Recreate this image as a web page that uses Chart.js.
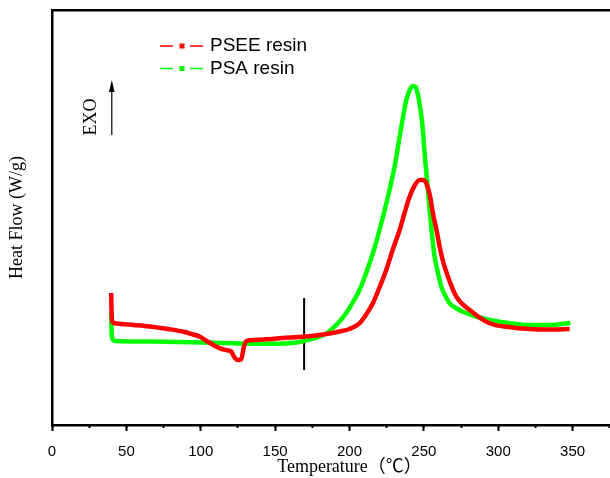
<!DOCTYPE html>
<html><head><meta charset="utf-8">
<script src="https://cdn.jsdelivr.net/npm/chart.js@4"></script>
<style>
html,body{margin:0;padding:0;background:#fff;overflow:hidden;width:610px;height:478px}
#wrap{width:610px;height:478px;overflow:hidden;position:relative;background:#fff}
canvas{position:absolute;left:0;top:0}
</style></head>
<body><div id="wrap"><canvas id="c" width="650" height="478"></canvas></div>
<script>
// ---- data ----
const seriesNames = ['PSEE resin', 'PSA resin'];
const pseeT  = [39.8,40.0,40.4,41.5,43.5,55,65.6,78,87.8,95,99.2,104,109.3,114,117.1,120.5,122.7,125,127.2,128.8,130.6,136,144,155,166.4,179.9,193.4,200,206.7,211,215.7,220,224.7,229,233.7,237,240.4,244,247.1,249.5,251.6,254,256.1,258.5,260.6,263,266.2,271.8,280.8,294.2,307,321,335,348];
const pseeHF = [1.32,1.15,1.04,1.02,1.015,1.0,0.985,0.96,0.935,0.905,0.885,0.84,0.793,0.76,0.75,0.733,0.677,0.65,0.657,0.767,0.84,0.85,0.857,0.87,0.88,0.90,0.935,0.96,1.017,1.10,1.217,1.37,1.55,1.75,1.95,2.12,2.283,2.40,2.45,2.45,2.417,2.30,2.117,1.95,1.783,1.63,1.483,1.283,1.15,1.017,0.98,0.96,0.955,0.96];
const psaT   = [39.8,40.0,40.4,41.5,43,60,76.8,100,121.4,144,155,166.4,173,179.9,185,188.7,193,197.7,202,206.7,210,213.5,217,220.2,223.5,226.9,230.5,233.7,236,238.2,240.5,242.5,244.5,246,247.1,249,250.5,252.2,253.9,255.5,257.2,259.5,261.7,264.5,267.3,271.5,276.3,285,294.2,307,321,335,348.5];
const psaHF  = [1.13,0.97,0.87,0.845,0.84,0.835,0.833,0.825,0.817,0.812,0.815,0.83,0.855,0.883,0.92,0.967,1.03,1.117,1.22,1.35,1.47,1.617,1.78,1.95,2.14,2.35,2.6,2.883,3.08,3.25,3.35,3.39,3.38,3.30,3.217,3.0,2.717,2.43,2.15,1.9,1.683,1.52,1.383,1.29,1.217,1.17,1.133,1.085,1.05,1.02,1.0,1.0,1.02];
const markerT  = [169.5, 169.5];
const markerHF = [0.55, 1.27];
const xTickValues = [0, 50, 100, 150, 200, 250, 300, 350, 400];
const xMinorStep = 25;
const arrowT = [40.2, 40.2];     // EXO arrow (tail, tip)
const arrowHF = [2.9, 3.45];
const exoLabel = {t: 26.4, hf: 3.08, text: 'EXO'};

const toXY = (xs, ys) => xs.map((x, i) => ({x, y: ys[i]}));

const annot = {
  id: 'annot',
  afterDraw(chart) {
    const ctx = chart.ctx, xs = chart.scales.x, ys = chart.scales.y;
    ctx.save();
    // legend
    chart.data.datasets.filter(d => d.inLegend).forEach((ds, i) => {
      const y = 46 + i * 22.5;
      ctx.strokeStyle = ds.borderColor; ctx.lineWidth = 1.3;
      ctx.beginPath();
      ctx.moveTo(160, y); ctx.lineTo(173, y);
      ctx.moveTo(190, y); ctx.lineTo(203, y);
      ctx.stroke();
      ctx.fillStyle = ds.borderColor;
      ctx.fillRect(179.5, y - 2.5, 5, 5);
      ctx.fillStyle = '#000';
      ctx.font = '19px "Liberation Sans", Arial, sans-serif';
      ctx.textBaseline = 'middle'; ctx.textAlign = 'left';
      ctx.fillText(ds.label, 210, y);
    });
    // EXO arrow
    const ax = xs.getPixelForValue(arrowT[0]);
    const y0 = ys.getPixelForValue(arrowHF[0]);
    const y1 = ys.getPixelForValue(arrowHF[1]);
    ctx.strokeStyle = '#000'; ctx.lineWidth = 1.2;
    ctx.beginPath(); ctx.moveTo(ax, y0); ctx.lineTo(ax, y1 + 10); ctx.stroke();
    ctx.fillStyle = '#000';
    ctx.beginPath(); ctx.moveTo(ax, y1); ctx.lineTo(ax - 2.8, y1 + 12); ctx.lineTo(ax + 2.8, y1 + 12); ctx.closePath(); ctx.fill();
    ctx.translate(xs.getPixelForValue(exoLabel.t), ys.getPixelForValue(exoLabel.hf));
    ctx.rotate(-Math.PI / 2);
    ctx.font = '18px "Liberation Serif", "Times New Roman", serif';
    ctx.textAlign = 'center'; ctx.textBaseline = 'middle';
    ctx.fillText(exoLabel.text, 0, 0);
    ctx.restore();
  }
};

new Chart(document.getElementById('c'), {
  type: 'line',
  data: {
    datasets: [
      {label: seriesNames[0], data: toXY(pseeT, pseeHF), borderColor: '#ff0000', borderWidth: 4.5, pointRadius: 0, cubicInterpolationMode: 'monotone', inLegend: true},
      {label: seriesNames[1], data: toXY(psaT, psaHF), borderColor: '#00ff00', borderWidth: 4.5, pointRadius: 0, cubicInterpolationMode: 'monotone', inLegend: true},
      {label: 'marker', data: toXY(markerT, markerHF), borderColor: '#000000', borderWidth: 2, pointRadius: 0, tension: 0}
    ]
  },
  options: {
    responsive: false, animation: false, events: [],
    layout: {padding: {top: 10, right: 3, left: 0, bottom: 0}},
    plugins: {legend: {display: false}, tooltip: {enabled: false}},
    scales: {
      x: {
        type: 'linear', position: 'bottom', min: 0, max: 400,
        afterBuildTicks: s => { s.ticks = xTickValues.map(v => ({value: v})); },
        afterFit: s => { s.height = 53; s.paddingLeft = 0; s.paddingRight = 0; },
        border: {display: true, color: '#000', width: 2.5},
        grid: {display: true, drawOnChartArea: false, drawTicks: true, tickLength: 6, tickWidth: 2, tickColor: '#000'},
        ticks: {color: '#000', padding: 12, maxRotation: 0, font: {family: '"Liberation Sans", Arial, sans-serif', size: 15}},
        title: {display: true, text: 'Temperature（℃）', color: '#000', padding: {top: 0, bottom: 0}, font: {family: '"Liberation Serif", "Times New Roman", "Noto Sans CJK SC", serif', size: 18}}
      },
      xMinor: {
        type: 'linear', axis: 'x', position: {y: 0}, min: 0, max: 400,
        afterFit: s => { s.paddingLeft = 0; s.paddingRight = 0; },
        ticks: {display: false, stepSize: xMinorStep},
        border: {display: false},
        grid: {display: true, drawOnChartArea: false, drawTicks: true, tickLength: 3, tickWidth: 2, tickColor: '#000'}
      },
      xTop: {
        type: 'linear', axis: 'x', position: {y: 4.15}, min: 0, max: 400,
        afterFit: s => { s.paddingLeft = 0; s.paddingRight = 0; },
        ticks: {display: false},
        border: {display: true, color: '#000', width: 2.5},
        grid: {display: false}
      },
      y: {
        type: 'linear', position: 'left', min: 0, max: 4.15,
        afterFit: s => { s.width = 52; s.paddingTop = 0; s.paddingBottom = 0; },
        border: {display: true, color: '#000', width: 2.5},
        grid: {display: false},
        ticks: {display: false},
        title: {display: true, text: 'Heat Flow (W/g)', color: '#000', padding: {top: 6, bottom: 0}, font: {family: '"Liberation Serif", "Times New Roman", serif', size: 18}}
      }
    }
  },
  plugins: [annot]
});
</script>
</body></html>
